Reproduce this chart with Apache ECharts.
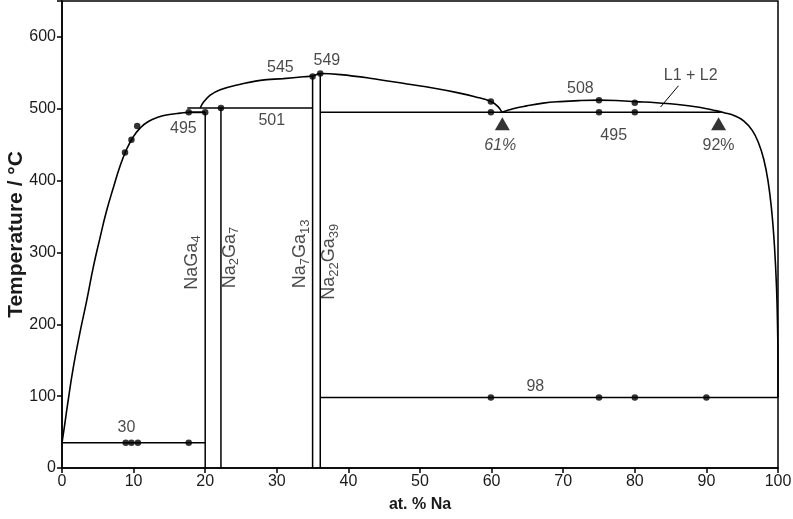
<!DOCTYPE html>
<html>
<head>
<meta charset="utf-8">
<script src="https://cdn.jsdelivr.net/npm/echarts@6/dist/echarts.min.js"></script>
<style>
html,body{margin:0;padding:0;background:#fff;}
#c{width:793px;height:519px;}
</style>
</head>
<body>
<div id="c"></div>
<script>
// ---- data (at.% Na, temperature °C) ----
var xTicks = [0,10,20,30,40,50,60,70,80,90,100];
var yTicks = [0,100,200,300,400,500,600];

// Ga-side liquidus
var liquidusGa = [[0,35],[0.3,55],[0.8,90],[1.58,140],[2.5,188],[3.45,233],[4.4,281],[5.3,320],[6.2,357],[7.2,391],[8.1,420],[9,443],[9.9,460],[10.9,473],[12,482],[13.5,488.5],[15,492],[16.5,494],[17.7,495],[20,495]];
// upper liquidus dome (L)
var liquidusL = [[19.3,501],[19.75,509],[20.7,519],[22.1,526.5],[24.4,533],[27.7,539.5],[30.9,542],[33.7,544.5],[35,545.5],[36.07,549],[38.9,547.5],[43,542.5],[48.2,534.5],[52,528.5],[55.2,522.5],[57.8,516.5],[59.9,510],[60.9,503],[61.45,495]];
// miscibility gap L1+L2 and Na-side liquidus
var liquidusNa = [[61.45,495],[63,500],[64.9,504],[67.2,507.8],[69.6,510],[72.2,511.4],[75,512],[78,511.2],[80,510],[83,508.3],[86,506],[89,502],[91,498],[92.5,494.5],[94,490],[95.2,483],[96.4,470],[97.3,452],[98,430],[98.6,400],[99.1,360],[99.5,310],[99.8,250],[99.95,190],[100,140],[100,98]];

// invariant lines
var eutecticGa = [[0,35],[20,35]];
var eutecticNa = [[36.07,98],[100,98]];
var peritectic495a = [[17.7,495],[20,495]];
var monotectic495 = [[36.07,495],[92,495]];
var peritectic501 = [[17.5,501],[35,501]];
// compounds (vertical lines)
var naGa4 = [[20,0],[20,495]];
var na2Ga7 = [[22.2,0],[22.2,501]];
var na7Ga13 = [[35,0],[35,545]];
var na22Ga39 = [[36.07,0],[36.07,549]];
var leader = [[86.1,532],[83.6,502.5]];

// measured points
var dots = [[8.8,439],[9.7,457],[10.5,476],[17.7,495],[20,495],[22.2,501],[35,545],[36.07,549],
  [59.9,510],[59.9,495],[75,512],[75,495],[80,508.5],[80,495],
  [8.9,35],[9.7,35],[10.6,35],[17.7,35],
  [59.9,98],[75,98],[80,98],[90,98]];
var triangles = [[61.5,479],[91.7,479]];

// text labels
var labelTexts = ['30','495','501','545','549','508','495','92%','L1 + L2','98'];
var labelPos = [[9,56],[16.95,472],[29.3,483],[30.5,558],[37.0,567.5],[72.4,528.7],[77.05,462.5],[91.7,448.6],[87.8,545.8],[66.1,114]];
var italicTexts = ['61%'];
var italicPos = [[61.2,448.6]];
var compoundTexts = ['{n|NaGa}{s|4}','{n|Na}{s|2}{n|Ga}{s|7}','{n|Na}{s|7}{n|Ga}{s|13}','{n|Na}{s|22}{n|Ga}{s|39}'];
var compoundPos = [[18.1,286],[23.4,293],[33.3,298],[37.3,287]];

var FONT = '"Liberation Sans", Arial, Helvetica, sans-serif';
var TXT = '#1a1a1a';
function lineSeries(data, smooth, w){
  return {type:'line', data:data, smooth:smooth||false, showSymbol:false, symbol:'none',
    lineStyle:{color:'#000', width:w||1.5}, silent:true, z:3, animation:false};
}
function labelSeries(texts, pos, extra){
  var d = pos.map(function(p,i){return {value:p, name:texts[i]};});
  var lab = Object.assign({show:true, position:'inside', formatter:'{b}', color:TXT, fontSize:16, fontFamily:FONT}, extra||{});
  return {type:'scatter', data:d, symbolSize:1, itemStyle:{color:'rgba(0,0,0,0)'}, label:lab, silent:true, z:6, animation:false};
}

var chart = echarts.init(document.getElementById('c'), null, {renderer:'canvas'});
var series = [
  lineSeries(liquidusGa, 0.5, 1.6),
  lineSeries(liquidusL, 0.4, 1.6),
  lineSeries(liquidusNa, 0.45, 1.6),
  lineSeries(eutecticGa), lineSeries(eutecticNa), lineSeries(peritectic495a),
  lineSeries(monotectic495), lineSeries(peritectic501),
  lineSeries(naGa4), lineSeries(na2Ga7), lineSeries(na7Ga13), lineSeries(na22Ga39),
  lineSeries(leader, false, 1),
  {type:'scatter', data:dots, symbol:'circle', symbolSize:6.5, itemStyle:{color:'#000'}, z:5, animation:false},
  {type:'scatter', data:triangles, symbol:'triangle', symbolSize:[15,13], itemStyle:{color:'#000'}, z:5, animation:false},
  labelSeries(labelTexts, labelPos),
  labelSeries(italicTexts, italicPos, {fontStyle:'italic'}),
  labelSeries(compoundTexts, compoundPos, {rotate:90, formatter:function(p){return p.name;},
    rich:{n:{fontSize:18, color:TXT, fontFamily:FONT, lineHeight:23, verticalAlign:'middle'},
          s:{fontSize:13, color:TXT, fontFamily:FONT, verticalAlign:'bottom'}}})
];

chart.setOption({
  animation:false,
  backgroundColor:'#fff',
  grid:{left:62, right:15, top:1, bottom:51, show:true, borderColor:'#000', borderWidth:1.5, containLabel:false, outerBoundsMode:'none'},
  xAxis:{type:'value', min:0, max:100, interval:10,
    name:'at. % Na', nameLocation:'middle', nameGap:29, nameMoveOverlap:false,
    nameTextStyle:{fontSize:16, fontWeight:'bold', color:TXT, fontFamily:FONT},
    axisLine:{show:true, lineStyle:{color:'#000', width:1.5}},
    axisTick:{show:true, inside:false, length:5, lineStyle:{color:'#000', width:1.5}},
    axisLabel:{fontSize:16, color:TXT, margin:6, fontFamily:FONT},
    splitLine:{show:false}},
  yAxis:{type:'value', min:0, max:650, interval:100,
    name:'Temperature / °C', nameLocation:'middle', nameGap:35, nameMoveOverlap:false,
    nameTextStyle:{fontSize:21, fontWeight:'bold', color:TXT, fontFamily:FONT},
    axisLine:{show:true, lineStyle:{color:'#000', width:1.5}},
    axisTick:{show:true, inside:false, length:5, lineStyle:{color:'#000', width:1.5}},
    axisLabel:{fontSize:16, color:TXT, margin:6, fontFamily:FONT,
      formatter:function(v){return yTicks.indexOf(v)>=0 ? String(v) : '';}},
    splitLine:{show:false}},
  series:series
});
</script>
</body>
</html>
